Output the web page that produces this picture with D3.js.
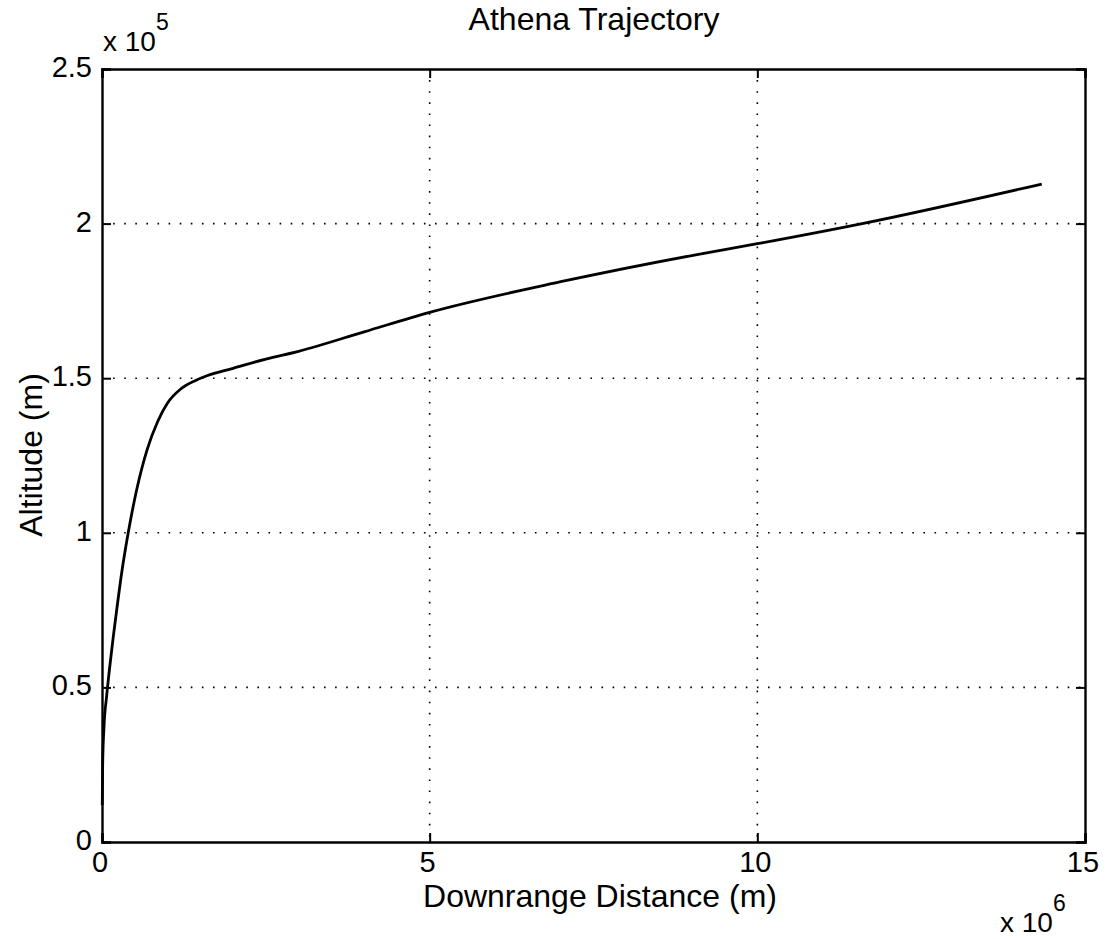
<!DOCTYPE html>
<html><head><meta charset="utf-8">
<script src="https://cdn.jsdelivr.net/npm/d3@7"></script>
<style>body{margin:0;background:#fff}text{font-family:"Liberation Sans",Arial,sans-serif;fill:#000}</style>
</head><body><svg id="c" width="1107" height="939"></svg>
<script>
const title = "Athena Trajectory";
const xLabel = "Downrange Distance (m)";
const yLabel = "Altitude (m)";
const xTicks = [0, 5, 10, 15];
const yTicks = [0, 0.5, 1, 1.5, 2, 2.5];
const xTickLabels = ["0", "5", "10", "15"];
const yTickLabels = ["0", "0.5", "1", "1.5", "2", "2.5"];
// downrange (x 10^6 m), altitude (x 10^5 m)
const downrange = [0.004, 0.01, 0.03, 0.07, 0.12, 0.17, 0.23, 0.30, 0.40, 0.53, 0.69, 0.85, 1.0, 1.2, 1.42, 1.6, 2.0, 2.5, 3.0, 4.0, 5.0, 7.0, 9.08, 10.0, 11.6, 14.34];
const altitude  = [0.12, 0.25, 0.37, 0.47, 0.57, 0.66, 0.76, 0.87, 1.0, 1.14, 1.27, 1.36, 1.42, 1.465, 1.492, 1.508, 1.532, 1.562, 1.587, 1.65, 1.713, 1.812, 1.90, 1.935, 2.0, 2.128];

const svg = d3.select("#c");
const L = 102, R = 1085, T = 69, B = 842;
const x = d3.scaleLinear().domain([0, 15]).range([L, R]);
const y = d3.scaleLinear().domain([0, 2.5]).range([B, T]);

// grid
const g = svg.append("g");
g.selectAll(".gx").data(xTicks.slice(1, -1)).join("line")
  .attr("x1", d => x(d)).attr("x2", d => x(d)).attr("y1", T).attr("y2", B)
  .attr("stroke", "#000").attr("stroke-width", 1.6).attr("stroke-dasharray", "1.6,9.5");
g.selectAll(".gy").data(yTicks.slice(1, -1)).join("line")
  .attr("y1", d => y(d)).attr("y2", d => y(d)).attr("x1", L).attr("x2", R)
  .attr("stroke", "#000").attr("stroke-width", 1.6).attr("stroke-dasharray", "1.6,9.5");

// axes with inward ticks
const tk = 9;
const axB = d3.axisBottom(x).tickValues(xTicks).tickSize(-tk).tickFormat("");
const axT = d3.axisTop(x).tickValues(xTicks).tickSize(-tk).tickFormat("");
const axL = d3.axisLeft(y).tickValues(yTicks).tickSize(-tk).tickFormat("");
const axR = d3.axisRight(y).tickValues(yTicks).tickSize(-tk).tickFormat("");
[[axB, `translate(0,${B})`], [axT, `translate(0,${T})`], [axL, `translate(${L},0)`], [axR, `translate(${R},0)`]].forEach(([a, t]) => {
  const s = svg.append("g").attr("transform", t).call(a);
  s.select(".domain").attr("stroke", "#000").attr("stroke-width", 2.4);
  s.selectAll(".tick line").attr("stroke", "#000").attr("stroke-width", 2);
});

// tick labels
svg.selectAll(".xl").data(xTicks).join("text")
  .attr("x", d => x(d) - 2).attr("y", B + 30)
  .attr("text-anchor", "middle").attr("font-size", 29)
  .text((d, i) => xTickLabels[i]);
svg.selectAll(".yl").data(yTicks).join("text")
  .attr("x", L - 10).attr("y", d => y(d) + 8)
  .attr("text-anchor", "end").attr("font-size", 29)
  .text((d, i) => yTickLabels[i]);

// exponents
const e1 = svg.append("text").attr("x", 103).attr("y", 51).attr("font-size", 28);
e1.append("tspan").text("x 10");
e1.append("tspan").attr("dy", -21).attr("font-size", 23).text("5");
const e2 = svg.append("text").attr("x", 1000).attr("y", 932).attr("font-size", 28);
e2.append("tspan").text("x 10");
e2.append("tspan").attr("dy", -21).attr("font-size", 23).text("6");

// title & labels
svg.append("text").attr("x", 594).attr("y", 30).attr("text-anchor", "middle")
  .attr("font-size", 32).text(title);
svg.append("text").attr("x", 600).attr("y", 907).attr("text-anchor", "middle")
  .attr("font-size", 32).text(xLabel);
svg.append("text").attr("transform", "translate(42,455) rotate(-90)").attr("text-anchor", "middle")
  .attr("font-size", 32).text(yLabel);

// curve
const pts = downrange.map((d, i) => [d, altitude[i]]);
svg.append("path").datum(pts)
  .attr("fill", "none").attr("stroke", "#000").attr("stroke-width", 2.8)
  .attr("stroke-linejoin", "round")
  .attr("d", d3.line().x(d => x(d[0])).y(d => y(d[1])).curve(d3.curveMonotoneX));
</script></body></html>
